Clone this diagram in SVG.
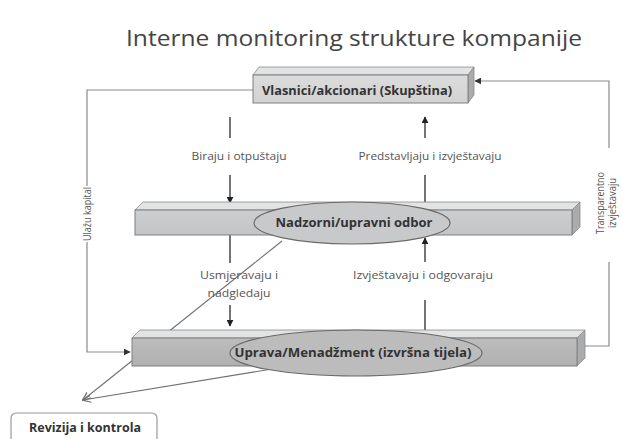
<svg xmlns="http://www.w3.org/2000/svg" width="623" height="439" viewBox="0 0 623 439">
  <style>
    .title { font-family: "Open Sans", "Liberation Sans", sans-serif; font-size: 21px; fill: #444; }
    .box-label { font-family: "Open Sans", "Liberation Sans", sans-serif; font-size: 12px; font-weight: bold; fill: #333; }
    .label { font-family: "Open Sans", "Liberation Sans", sans-serif; font-size: 10.5px; fill: #555; }
    .side-label { font-family: "Open Sans", "Liberation Sans", sans-serif; font-size: 11px; fill: #555; }
    .face-top { fill: #e2e3e4; stroke: #8c8c8c; stroke-width: 0.8; }
    .face-side { fill: #a9abad; stroke: #8c8c8c; stroke-width: 0.8; }
    .face-front { stroke: #7e7e7e; stroke-width: 1; }
    .oval { stroke: #6a6a6a; stroke-width: 1.2; }
    .outer { fill: none; stroke: #8a8a8a; stroke-width: 1.2; }
    .inner { fill: none; stroke: #2a2a2a; stroke-width: 1.3; }
    .audit { fill: none; stroke: #707070; stroke-width: 1.1; }
  </style>
  <defs>
    <marker id="tip-dark" viewBox="0 0 10 10" refX="9" refY="5" markerWidth="7" markerHeight="7" markerUnits="userSpaceOnUse" orient="auto">
      <path d="M0,0 L10,5 L0,10 z" fill="#222"/>
    </marker>
    <marker id="tip-gray" viewBox="0 0 10 10" refX="9" refY="5" markerWidth="7" markerHeight="7" markerUnits="userSpaceOnUse" orient="auto">
      <path d="M0,0 L10,5 L0,10 z" fill="#333"/>
    </marker>
    <marker id="tip-open" viewBox="0 0 10 10" refX="9" refY="5" markerWidth="9" markerHeight="9" markerUnits="userSpaceOnUse" orient="auto">
      <path d="M0,1 L10,5 L0,9" fill="none" stroke="#707070" stroke-width="1.4"/>
    </marker>
    <linearGradient id="front-light" x1="0" y1="0" x2="0" y2="1">
      <stop offset="0" stop-color="#dcdcdc"/>
      <stop offset="1" stop-color="#d2d2d2"/>
    </linearGradient>
    <linearGradient id="front-mid" x1="0" y1="0" x2="0" y2="1">
      <stop offset="0" stop-color="#ccced0"/>
      <stop offset="1" stop-color="#c2c4c6"/>
    </linearGradient>
    <linearGradient id="front-dark" x1="0" y1="0" x2="0" y2="1">
      <stop offset="0" stop-color="#bdbdbd"/>
      <stop offset="1" stop-color="#b0b0b0"/>
    </linearGradient>
  </defs>

  <text class="title" x="354" y="46" text-anchor="middle" textLength="456" lengthAdjust="spacingAndGlyphs">Interne monitoring strukture kompanije</text>

  <g id="connectors">
    <!-- capital flow: left side into management -->
    <polyline class="outer" points="253,90 87,90 87,186"/>
    <polyline class="outer" points="87,242 87,352 130,352" marker-end="url(#tip-gray)"/>
    <!-- transparent reporting: right side back to owners -->
    <polyline class="outer" points="585,346 609,346 609,262"/>
    <polyline class="outer" points="609,148 609,81 475,81" marker-end="url(#tip-gray)"/>

    <!-- owners -> board -->
    <line class="inner" x1="230" y1="117" x2="230" y2="138"/>
    <line class="inner" x1="230" y1="175" x2="230" y2="203" marker-end="url(#tip-dark)"/>
    <!-- board -> owners -->
    <line class="inner" x1="425" y1="138" x2="425" y2="117" marker-end="url(#tip-dark)"/>
    <line class="inner" x1="425" y1="202" x2="425" y2="175"/>
    <!-- board -> management -->
    <line class="inner" x1="230" y1="235" x2="230" y2="263"/>
    <line class="inner" x1="230" y1="305" x2="230" y2="326" marker-end="url(#tip-dark)"/>
    <!-- management -> board -->
    <line class="inner" x1="425" y1="262" x2="425" y2="238" marker-end="url(#tip-dark)"/>
    <line class="inner" x1="425" y1="330" x2="425" y2="300"/>

    <!-- audit and control lines -->
    <line class="audit" x1="282" y1="241" x2="83" y2="400" marker-end="url(#tip-open)"/>
    <line class="audit" x1="272" y1="369" x2="83" y2="400" marker-end="url(#tip-open)"/>
  </g>

  <g id="connector-labels">
    <text class="label" x="239" y="160" text-anchor="middle" textLength="95" lengthAdjust="spacingAndGlyphs">Biraju i otpuštaju</text>
    <text class="label" x="430" y="160" text-anchor="middle" textLength="143" lengthAdjust="spacingAndGlyphs">Predstavljaju i izvještavaju</text>
    <text class="label" x="239" y="279" text-anchor="middle" textLength="78" lengthAdjust="spacingAndGlyphs">Usmjeravaju i</text>
    <text class="label" x="239" y="297" text-anchor="middle" textLength="63" lengthAdjust="spacingAndGlyphs">nadgledaju</text>
    <text class="label" x="423" y="279" text-anchor="middle" textLength="140" lengthAdjust="spacingAndGlyphs">Izvještavaju i odgovaraju</text>
    <text class="side-label" transform="translate(91,214) rotate(-90)" text-anchor="middle" textLength="54" lengthAdjust="spacingAndGlyphs">Ulažu kapital</text>
    <text class="side-label" transform="translate(604,203) rotate(-90)" text-anchor="middle" textLength="62" lengthAdjust="spacingAndGlyphs">Transparentno</text>
    <text class="side-label" transform="translate(616,203) rotate(-90)" text-anchor="middle" textLength="50" lengthAdjust="spacingAndGlyphs">izvještavaju</text>
  </g>

  <g id="owners">
    <polygon class="face-top" points="253,75 259,67 474,67 468,75"/>
    <polygon class="face-side" points="468,75 474,67 474,95 468,103"/>
    <rect class="face-front" x="253" y="75" width="215" height="28" fill="url(#front-light)"/>
    <text class="box-label" x="357" y="95" text-anchor="middle" textLength="190" lengthAdjust="spacingAndGlyphs">Vlasnici/akcionari  (Skupština)</text>
  </g>

  <g id="board">
    <polygon class="face-top" points="135,210 143,202 580,202 572,210"/>
    <polygon class="face-side" points="572,210 580,202 580,227 572,235"/>
    <rect class="face-front" x="135" y="210" width="437" height="25" fill="url(#front-mid)"/>
    <ellipse class="oval" cx="352" cy="223" rx="98" ry="21" fill="#c7c9cb"/>
    <text class="box-label" x="354" y="227" text-anchor="middle" textLength="157" lengthAdjust="spacingAndGlyphs">Nadzorni/upravni odbor</text>
  </g>

  <g id="management">
    <polygon class="face-top" points="132,338 140,330 585,330 577,338"/>
    <polygon class="face-side" points="577,338 585,330 585,358 577,366"/>
    <rect class="face-front" x="132" y="338" width="445" height="28" fill="url(#front-dark)"/>
    <ellipse class="oval" cx="356" cy="353" rx="126" ry="23" fill="#bcbcbc"/>
    <text class="box-label" x="353" y="357" text-anchor="middle" textLength="237" lengthAdjust="spacingAndGlyphs">Uprava/Menadžment (izvršna tijela)</text>
  </g>

  <g id="audit">
    <rect x="11" y="413" width="146" height="36" rx="5" ry="5" fill="#ffffff" stroke="#9a9a9a" stroke-width="1.2"/>
    <text class="box-label" x="85" y="432" text-anchor="middle" textLength="112" lengthAdjust="spacingAndGlyphs">Revizija i kontrola</text>
  </g>
</svg>
